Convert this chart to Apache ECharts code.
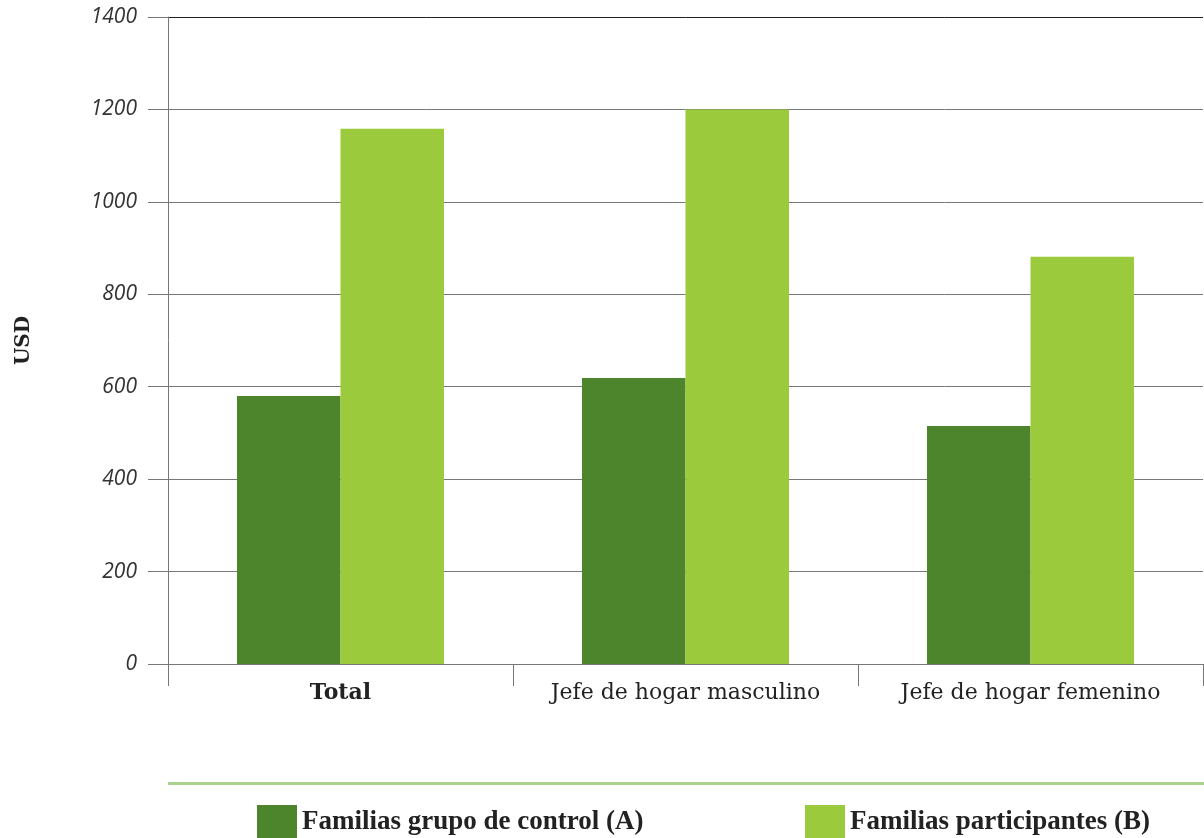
<!DOCTYPE html>
<html>
<head>
<meta charset="utf-8">
<script src="https://cdn.jsdelivr.net/npm/echarts@6/dist/echarts.min.js"></script>
<style>
  html, body { margin: 0; padding: 0; background: #fff; }
  #chart { width: 1204px; height: 838px; }
</style>
</head>
<body>
<div id="chart"></div>
<script>
// datos
var categorias = ['Total', 'Jefe de hogar masculino', 'Jefe de hogar femenino'];
var grupoControl = [580, 619, 515];        // Familias grupo de control (A)
var participantes = [1158, 1200, 881];     // Familias participantes (B)
var nombreA = 'Familias grupo de control (A)';
var nombreB = 'Familias participantes (B)';

var verdeOscuro = '#4c852b';
var verdeClaro = '#9bca3c';

var estiloLeyenda = { fontFamily: 'Liberation Serif', fontWeight: 'bold', fontSize: 27, color: '#222' };

var myChart = echarts.init(document.getElementById('chart'));
myChart.setOption({
  animation: false,
  grid: { left: 168, right: 1, top: 17, bottom: 174, containLabel: false, outerBoundsMode: 'none' },
  legend: [
    {
      data: [nombreA], left: 257, top: 805, padding: 0,
      itemWidth: 40, itemHeight: 34, itemGap: 8, icon: 'rect',
      textStyle: estiloLeyenda
    },
    {
      data: [nombreB], left: 805, top: 805, padding: 0,
      itemWidth: 40, itemHeight: 34, itemGap: 8, icon: 'rect',
      textStyle: estiloLeyenda
    }
  ],
  graphic: [
    { type: 'rect', left: 168, top: 782, shape: { width: 1036, height: 3 }, style: { fill: '#a9d18e' } }
  ],
  xAxis: {
    type: 'category',
    data: categorias,
    axisLine: { lineStyle: { color: '#777', width: 1 } },
    axisTick: { show: true, interval: 0, length: 22, lineStyle: { color: '#777' } },
    axisLabel: {
      interval: 0,
      hideOverlap: false,
      margin: 18,
      fontFamily: 'DejaVu Serif',
      fontSize: 22,
      color: '#222',
      formatter: function (v) { return v === 'Total' ? '{b|' + v + '}' : v; },
      rich: { b: { fontFamily: 'DejaVu Serif', fontWeight: 'bold', fontSize: 22, color: '#222' } }
    }
  },
  yAxis: {
    type: 'value',
    min: 0, max: 1400, interval: 200,
    name: 'USD',
    nameLocation: 'middle',
    nameGap: 134,
    nameRotate: 90,
    nameTextStyle: { fontFamily: 'DejaVu Serif', fontWeight: 'bold', fontSize: 20, color: '#222' },
    axisLine: { show: true, lineStyle: { color: '#777' } },
    axisTick: { show: true, length: 20, lineStyle: { color: '#777' } },
    axisLabel: {
      margin: 31, fontFamily: 'Open Sans', fontStyle: 'italic', fontSize: 21, color: '#333',
      formatter: function (v) { return String(v); }
    },
    splitLine: { lineStyle: { color: ['#777', '#777', '#777', '#777', '#777', '#777', '#777', '#222'] } }
  },
  series: [
    {
      name: nombreA, type: 'bar', data: grupoControl,
      barGap: '0%', barCategoryGap: '40%',
      itemStyle: { color: verdeOscuro }
    },
    {
      name: nombreB, type: 'bar', data: participantes,
      itemStyle: { color: verdeClaro }
    }
  ]
});
</script>
</body>
</html>
